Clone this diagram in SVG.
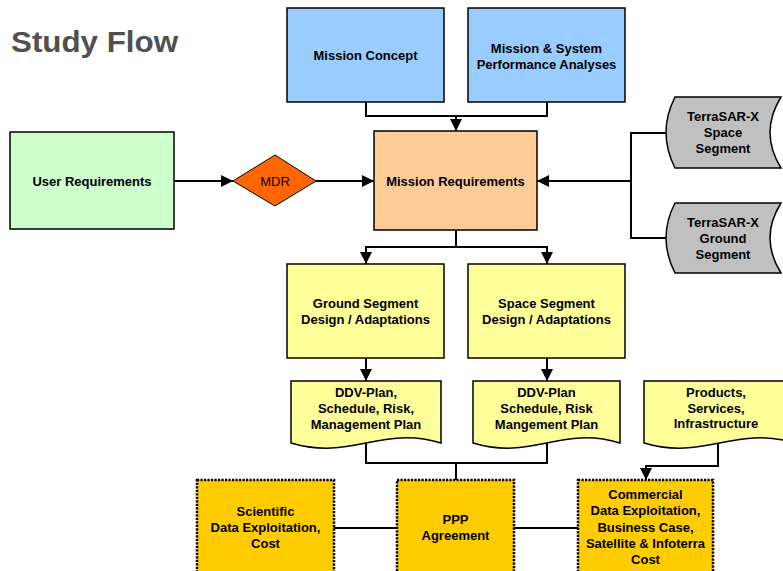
<svg xmlns="http://www.w3.org/2000/svg" width="783" height="571" viewBox="0 0 783 571">
<defs>
<marker id="arr" markerUnits="userSpaceOnUse" markerWidth="12" markerHeight="12" viewBox="0 0 12 12" refX="12" refY="6" orient="auto">
<path d="M0,0 L12,6 L0,12 Z" fill="#000"/>
</marker>
</defs>
<style>
text{font-family:"Liberation Sans",Arial,sans-serif;font-size:13px;font-weight:bold;fill:#000;text-anchor:middle;dominant-baseline:central}
.box{stroke:#000;stroke-width:1.5}
.dot{stroke:#000;stroke-width:2.5;stroke-dasharray:2.2 1.3;fill:#FFCC00}
.blue{fill:#99CCFF}
.yel{fill:#FFFF99}
.gray{fill:#C0C0C0}
.con{fill:none;stroke:#000;stroke-width:2}
</style>
<rect width="783" height="571" fill="#fff"/>
<text x="11" y="52" style="font-size:30px;text-anchor:start;dominant-baseline:alphabetic;fill:#505050" textLength="167" lengthAdjust="spacingAndGlyphs">Study Flow</text>

<g id="connectors">
<polyline class="con" points="366,102 366,116 547,116 547,102"/>
<line class="con" x1="456" y1="116" x2="456" y2="131" marker-end="url(#arr)"/>
<line class="con" x1="174" y1="181" x2="233" y2="181" marker-end="url(#arr)"/>
<line class="con" x1="316" y1="181" x2="374" y2="181" marker-end="url(#arr)"/>
<polyline class="con" points="666,133 631,133 631,238 666,238"/>
<line class="con" x1="631" y1="181" x2="537" y2="181" marker-end="url(#arr)"/>
<line class="con" x1="456" y1="230" x2="456" y2="247"/>
<polyline class="con" points="366,264 366,247 547,247 547,264"/>
<line class="con" x1="366" y1="247" x2="366" y2="264" marker-end="url(#arr)"/>
<line class="con" x1="547" y1="247" x2="547" y2="264" marker-end="url(#arr)"/>
<line class="con" x1="366" y1="358" x2="366" y2="381" marker-end="url(#arr)"/>
<line class="con" x1="547" y1="358" x2="547" y2="381" marker-end="url(#arr)"/>
<polyline class="con" points="366,443 366,463 547,463 547,443"/>
<line class="con" x1="456" y1="463" x2="456" y2="480"/>
<polyline class="con" points="718,443 718,466 646,466"/>
<line class="con" x1="646" y1="465" x2="646" y2="480" marker-end="url(#arr)"/>
<line class="con" x1="334" y1="528" x2="397" y2="528"/>
<line class="con" x1="514" y1="528" x2="578" y2="528"/>
</g>

<g id="mission-concept">
<rect class="box blue" x="287" y="8" width="157" height="94"/>
<text x="365.5" y="55">Mission Concept</text>
</g>
<g id="mission-system">
<rect class="box blue" x="468" y="8" width="157" height="94"/>
<text x="546.5" y="48">Mission &amp; System</text>
<text x="546.5" y="64">Performance Analyses</text>
</g>
<g id="user-requirements">
<rect class="box" fill="#CCFFCC" x="10" y="132" width="164" height="97"/>
<text x="92" y="181">User Requirements</text>
</g>
<g id="mdr">
<polygon class="box" fill="#FF6600" points="233,181 275,155 316,181 275,206" style="stroke-width:1"/>
<text x="275" y="181" style="font-weight:normal">MDR</text>
</g>
<g id="mission-requirements">
<rect class="box" fill="#FFCC99" x="374" y="131" width="163" height="99"/>
<text x="455.5" y="181">Mission Requirements</text>
</g>
<g id="terrasar-space">
<path class="box gray" d="M675,97 H781 Q759,132.5 781,168 H675 Q657,132.5 675,97 Z"/>
<text x="723" y="116">TerraSAR-X</text>
<text x="723" y="132">Space</text>
<text x="723" y="148">Segment</text>
</g>
<g id="terrasar-ground">
<path class="box gray" d="M675,203 H781 Q759,238 781,273 H675 Q657,238 675,203 Z"/>
<text x="723" y="222">TerraSAR-X</text>
<text x="723" y="238">Ground</text>
<text x="723" y="254">Segment</text>
</g>
<g id="ground-design">
<rect class="box yel" x="287" y="264" width="157" height="94"/>
<text x="365.5" y="303">Ground Segment</text>
<text x="365.5" y="319">Design / Adaptations</text>
</g>
<g id="space-design">
<rect class="box yel" x="468" y="264" width="157" height="94"/>
<text x="546.5" y="303">Space Segment</text>
<text x="546.5" y="319">Design / Adaptations</text>
</g>
<g id="ddv-ground">
<path class="box yel" d="M291,381 H441 V443 C381,425 351,461 291,443 Z"/>
<text x="366" y="392">DDV-Plan,</text>
<text x="366" y="408">Schedule, Risk,</text>
<text x="366" y="424">Management Plan</text>
</g>
<g id="ddv-space">
<path class="box yel" d="M473,381 H620 V443 C561,425 532,461 473,443 Z"/>
<text x="546.5" y="392">DDV-Plan</text>
<text x="546.5" y="408">Schedule, Risk</text>
<text x="546.5" y="424">Mangement Plan</text>
</g>
<g id="products">
<path class="box yel" d="M644,381 H795 V443 C735,425 704,461 644,443 Z"/>
<text x="716" y="392">Products,</text>
<text x="716" y="408">Services,</text>
<text x="716" y="423">Infrastructure</text>
</g>
<g id="scientific">
<rect class="dot" x="197" y="480" width="137" height="100"/>
<text x="265.5" y="511">Scientific</text>
<text x="265.5" y="527">Data Exploitation,</text>
<text x="265.5" y="543">Cost</text>
</g>
<g id="ppp">
<rect class="dot" x="397" y="480" width="117" height="100"/>
<text x="455.5" y="519">PPP</text>
<text x="455.5" y="535">Agreement</text>
</g>
<g id="commercial">
<rect class="dot" x="578" y="480" width="135" height="100"/>
<text x="645.5" y="494">Commercial</text>
<text x="645.5" y="510.5">Data Exploitation,</text>
<text x="645.5" y="527">Business Case,</text>
<text x="645.5" y="543.5">Satellite &amp; Infoterra</text>
<text x="645.5" y="559.5">Cost</text>
</g>
</svg>
